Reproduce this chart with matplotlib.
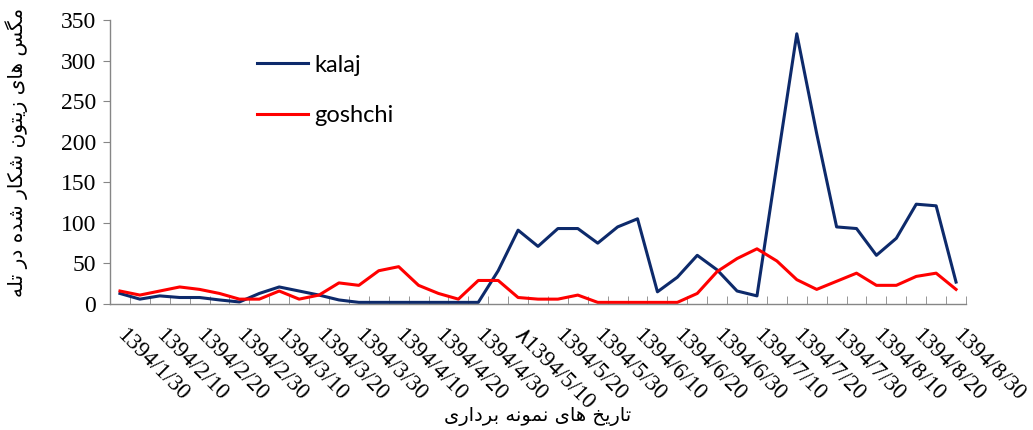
import matplotlib
matplotlib.use("Agg")
import matplotlib.pyplot as plt
from matplotlib.ticker import MultipleLocator
from matplotlib.transforms import ScaledTranslation

# sampling dates (one label every second sample)
date_labels = ["1394/1/30", "1394/2/10", "1394/2/20", "1394/2/30", "1394/3/10",
               "1394/3/20", "1394/3/30", "1394/4/10", "1394/4/20", "1394/4/30",
               "\u06f81394/5/10", "1394/5/20", "1394/5/30", "1394/6/10", "1394/6/20",
               "1394/6/30", "1394/7/10", "1394/7/20", "1394/7/30", "1394/8/10",
               "1394/8/20", "1394/8/30"]

kalaj = [13, 6, 10, 8, 8, 5, 2.5, 13, 21, 16, 11, 5, 2, 2, 2, 2, 2, 2, 2, 41, 91,
         71, 93, 93, 75, 95, 105, 15, 33, 60, 42, 16, 10, 172, 333, 210, 95, 93,
         60, 81, 123, 121, 27]
goshchi = [16, 11, 16, 21, 18, 13, 6, 6, 16, 6, 11, 26, 23, 41, 46, 23, 13, 6, 29,
           29, 8, 6, 6, 11, 2, 2, 2, 2, 2, 13, 40, 56, 68, 53, 30, 18, 28, 38, 23,
           23, 34, 38, 18]

ylabel_fa = "مگس های زیتون شکار شده در تله"
xlabel_fa = "تاریخ های نمونه برداری"

# persian letters -> (isolated, final, initial, medial) presentation forms
FORMS = {
    'ا': ('\uFE8D', '\uFE8E', None, None),
    'ب': ('\uFE8F', '\uFE90', '\uFE91', '\uFE92'),
    'ت': ('\uFE95', '\uFE96', '\uFE97', '\uFE98'),
    'خ': ('\uFEA5', '\uFEA6', '\uFEA7', '\uFEA8'),
    'د': ('\uFEA9', '\uFEAA', None, None),
    'ر': ('\uFEAD', '\uFEAE', None, None),
    'ز': ('\uFEAF', '\uFEB0', None, None),
    'س': ('\uFEB1', '\uFEB2', '\uFEB3', '\uFEB4'),
    'ش': ('\uFEB5', '\uFEB6', '\uFEB7', '\uFEB8'),
    'ل': ('\uFEDD', '\uFEDE', '\uFEDF', '\uFEE0'),
    'م': ('\uFEE1', '\uFEE2', '\uFEE3', '\uFEE4'),
    'ن': ('\uFEE5', '\uFEE6', '\uFEE7', '\uFEE8'),
    'ه': ('\uFEE9', '\uFEEA', '\uFEEB', '\uFEEC'),
    'و': ('\uFEED', '\uFEEE', None, None),
    'ی': ('\uFBFC', '\uFBFD', '\uFBFE', '\uFBFF'),
    'ک': ('\uFB8E', '\uFB8F', '\uFB90', '\uFB91'),
    'گ': ('\uFB92', '\uFB93', '\uFB94', '\uFB95'),
}


def shape(text):
    out = []
    for i, ch in enumerate(text):
        if ch not in FORMS:
            out.append(ch)
            continue
        iso, fin, ini, med = FORMS[ch]
        prev = text[i - 1] if i > 0 else ''
        nxt = text[i + 1] if i + 1 < len(text) else ''
        join_prev = prev in FORMS and FORMS[prev][2] is not None
        join_next = ini is not None and nxt in FORMS
        if join_prev and join_next:
            out.append(med)
        elif join_prev:
            out.append(fin)
        elif join_next:
            out.append(ini)
        else:
            out.append(iso)
    return ''.join(out)[::-1]


num_font = ['Liberation Serif', 'DejaVu Sans']
fa_font = ['DejaVu Sans']

fig = plt.figure(figsize=(10.33, 4.3), dpi=100)
ax = fig.add_axes([110 / 1033, 1 - 304 / 430, 856 / 1033, 284 / 430])

x = list(range(len(kalaj)))
ax.plot(x, kalaj, color='#0d2a6b', lw=2.2, label='kalaj')
ax.plot(x, goshchi, color='#ff0000', lw=2.2, label='goshchi')

ax.set_xlim(-0.5, len(kalaj) - 0.5)
ax.set_ylim(0, 350)
ax.yaxis.set_major_locator(MultipleLocator(50))

for s in ['top', 'right']:
    ax.spines[s].set_visible(False)
for s in ['left', 'bottom']:
    ax.spines[s].set_color('#868686')
    ax.spines[s].set_linewidth(1.0)

ax.tick_params(axis='y', direction='out', length=5, color='#868686',
               labelsize=17, pad=5)
for t in ax.get_yticklabels():
    t.set_fontfamily(num_font)

ax.set_xticks(list(range(0, len(kalaj), 2)))
ax.set_xticklabels(date_labels, rotation=-45, ha='left', va='top',
                   rotation_mode='anchor', fontsize=16.5, fontfamily=num_font)
ax.tick_params(axis='x', which='major', length=0, pad=15)
shift = ScaledTranslation(7 / 100, 0, fig.dpi_scale_trans)
for t in ax.get_xticklabels():
    t.set_transform(t.get_transform() + shift)
ax.set_xticks([i + 0.5 for i in range(-1, len(kalaj))], minor=True)
ax.tick_params(axis='x', which='minor', direction='in', length=6,
               color='#868686')

leg = ax.legend(loc='upper left', bbox_to_anchor=(0.172, 0.878),
                frameon=False, handlelength=2.15,
                handletextpad=0.25, labelspacing=1.25, borderpad=0,
                borderaxespad=0, prop={'family': 'Lato', 'size': 17})

fig.text(17 / 1033, 1 - 152 / 430, shape(ylabel_fa), rotation=90,
         ha='center', va='center', fontsize=14.5, fontfamily=fa_font)
fig.text(538 / 1033, 1 - 416 / 430, shape(xlabel_fa),
         ha='center', va='center', fontsize=14, fontfamily=fa_font)

fig.savefig('out.png', dpi=100)
